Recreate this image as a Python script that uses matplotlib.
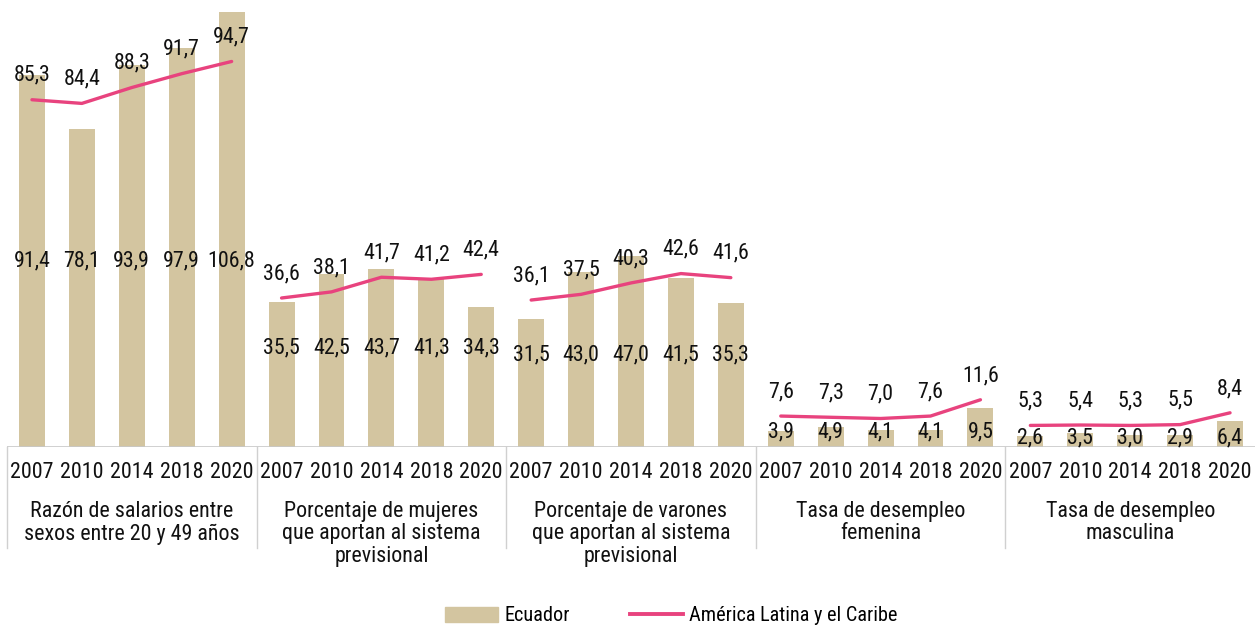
import matplotlib.pyplot as plt
import matplotlib.font_manager as fm
from matplotlib.transforms import blended_transform_factory
from matplotlib.patches import Patch
from matplotlib.lines import Line2D

names = {f.name for f in fm.fontManager.ttflist}
if 'Roboto Condensed' in names:
    plt.rcParams['font.family'] = ['Roboto Condensed', 'DejaVu Sans']
    fsize = 15.8
else:
    plt.rcParams['font.family'] = ['Roboto', 'DejaVu Sans']
    fsize = 14

years = ['2007', '2010', '2014', '2018', '2020']
groups = ['Razón de salarios entre\nsexos entre 20 y 49 años',
          'Porcentaje de mujeres\nque aportan al sistema\nprevisional',
          'Porcentaje de varones\nque aportan al sistema\nprevisional',
          'Tasa de desempleo\nfemenina',
          'Tasa de desempleo\nmasculina']

ecuador = [
    [91.4, 78.1, 93.9, 97.9, 106.8],
    [35.5, 42.5, 43.7, 41.3, 34.3],
    [31.5, 43.0, 47.0, 41.5, 35.3],
    [3.9, 4.9, 4.1, 4.1, 9.5],
    [2.6, 3.5, 3.0, 2.9, 6.4],
]
alc = [
    [85.3, 84.4, 88.3, 91.7, 94.7],
    [36.6, 38.1, 41.7, 41.2, 42.4],
    [36.1, 37.5, 40.3, 42.6, 41.6],
    [7.6, 7.3, 7.0, 7.6, 11.6],
    [5.3, 5.4, 5.3, 5.5, 8.4],
]

# vertical position of the bar labels in each group
bar_label_y = [45.7, 24.3, 22.6, 3.7, 2.2]

bar_color = '#D3C5A0'
line_color = '#E8437E'

fig = plt.figure(figsize=(12.55, 6.26), dpi=100)
ax = fig.add_axes([7 / 1255, 179 / 626, 1 - 7 / 1255, 447 / 626])

tr = blended_transform_factory(ax.transData, ax.transAxes)

for g in range(len(groups)):
    xs = [g * 5 + i for i in range(5)]
    ax.bar(xs, ecuador[g], width=0.52, color=bar_color, zorder=1)
    ax.plot(xs, alc[g], color=line_color, lw=2.4, solid_capstyle='round', zorder=3)
    for i, x in enumerate(xs):
        ax.text(x, bar_label_y[g], f'{ecuador[g][i]:.1f}'.replace('.', ','),
                ha='center', va='center', fontsize=fsize, color='#111111', zorder=4)
        ax.annotate(f'{alc[g][i]:.1f}'.replace('.', ','), (x, alc[g][i]),
                    xytext=(0, 17.5), textcoords='offset points', ha='center',
                    va='center', fontsize=fsize, color='#111111', zorder=4)
        ax.text(x, -0.057, years[i], transform=tr, ha='center',
                va='center', fontsize=fsize, color='#111111')
    ax.text(g * 5 + 2, -0.121, groups[g], transform=tr, ha='center', va='top',
            fontsize=fsize, color='#111111', linespacing=1.08)
    ax.plot([g * 5 - 0.5, g * 5 - 0.5], [0, -0.226], transform=tr,
            color='#D0D0D0', lw=1, clip_on=False)

ax.set_xlim(-0.5, 24.5)
ax.set_ylim(0, 109.8)
ax.axhline(0, color='#C8C8C8', lw=1.2, zorder=2)
ax.set_xticks([])
ax.set_yticks([])
for s in ax.spines.values():
    s.set_visible(False)

handles = [Patch(color=bar_color, label='Ecuador'),
           Line2D([], [], color=line_color, lw=2.8, label='América Latina y el Caribe')]
fig.legend(handles=handles, loc='center', bbox_to_anchor=(0.535, 0.016), ncol=2,
           frameon=False, fontsize=fsize - 1.2, handlelength=2.6, handleheight=0.8,
           columnspacing=3.0, handletextpad=0.3)

fig.savefig('out.png', dpi=100)
